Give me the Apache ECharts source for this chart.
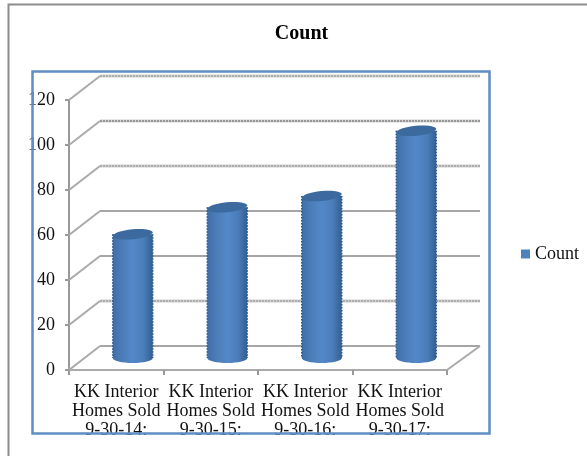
<!DOCTYPE html>
<html>
<head>
<meta charset="utf-8">
<style>html,body{margin:0;padding:0;background:#fff}#c{width:587px;height:456px}</style>
<script src="https://cdn.jsdelivr.net/npm/echarts@6/dist/echarts.min.js"></script>
</head>
<body>
<div id="c"></div>
<script>
// Yearly home sales shown as pseudo-3D cylinders on a tilted floor.
const categories = ['KK Interior\nHomes Sold\n9-30-14:', 'KK Interior\nHomes Sold\n9-30-15:', 'KK Interior\nHomes Sold\n9-30-16:', 'KK Interior\nHomes Sold\n9-30-17:'];
const seriesName = 'Count';
const counts = [55, 67, 72, 101];
const yTicks = [0, 20, 40, 60, 80, 100, 120];
const softTicks = [20, 80, 100, 120];

const FONT = '"Liberation Serif","Times New Roman",serif';
const DEPTH_X = 31, DEPTH_X_RIGHT = 33, DEPTH_Y = 24;
const BLUE = '#4f81bd';

const chart = echarts.init(document.getElementById('c'), null, { renderer: 'canvas' });

const floatGrid = (dx, dy) => ({ left: 69 + dx, top: 100 - dy, width: 378, height: 270 });
const valueAxis = (i, show) => ({
  type: 'value', gridIndex: i, min: 0, max: 120, interval: 20,
  axisLine: { show, lineStyle: { color: '#999', width: 2 } },
  axisTick: { show, length: 4, lineStyle: { color: '#999', width: 2 } },
  axisLabel: { show, color: '#111', fontFamily: FONT, fontSize: 18, margin: 14, padding: [4, 0, 0, 0] },
  splitLine: { show: false }
});
const catAxis = (i, show) => ({
  type: 'category', gridIndex: i, data: categories,
  axisLine: { show, onZero: false, lineStyle: { color: '#aaa', width: 2 } },
  axisTick: { show, length: 5, lineStyle: { color: '#999', width: 2 } },
  axisLabel: { show, color: '#111', fontFamily: FONT, fontSize: 18, lineHeight: 19, margin: 13, interval: 0 }
});

// Back-wall lines and the slanted floor/side connectors for each tick.
function renderWall(params, api) {
  const v = api.value(0);
  const left = api.coord([0, v]);
  const size = api.size([1, 0]);
  const x0 = left[0] - size[0] / 2;
  const x1 = x0 + size[0] * categories.length;
  const y = left[1];
  const wall = { x1: x0 + DEPTH_X, y1: y - DEPTH_Y, x2: x1 + DEPTH_X_RIGHT, y2: y - DEPTH_Y };
  const connector = { stroke: '#aaa', lineWidth: 2 };
  const children = [{ type: 'line', shape: { x1: x0, y1: y, x2: x0 + DEPTH_X, y2: y - DEPTH_Y }, style: connector }];
  if (softTicks.includes(v)) {
    // Fuzzy rows: a pale band with a fine darker weave on top.
    children.push(
      { type: 'line', shape: wall, style: { stroke: '#cfcfcf', lineWidth: 3 } },
      { type: 'line', shape: wall, style: { stroke: v === 100 ? '#989898' : '#adadad', lineWidth: 2, lineDash: [2, 1] } }
    );
  } else {
    children.push({ type: 'line', shape: wall, style: { stroke: '#a6a6a6', lineWidth: 2 } });
  }
  if (v === 0) {
    children.push({ type: 'line', shape: { x1: x1, y1: y, x2: x1 + DEPTH_X_RIGHT, y2: y - DEPTH_Y }, style: connector });
  }
  return { type: 'group', children };
}

// One cylinder: shaded body with speckled edges and a tilted darker cap.
function renderBar(params, api) {
  const top = api.coord([api.value(0), api.value(1)]);
  const base = api.coord([api.value(0), 0]);
  const cx = top[0], w = 40, rx = w / 2, ry = 5;
  const fill = new echarts.graphic.LinearGradient(0, 0, 1, 0, [
    { offset: 0, color: '#3f6fa8' },
    { offset: 0.2, color: '#4a7bb6' },
    { offset: 0.5, color: '#5388c9' },
    { offset: 0.78, color: '#4a7cb8' },
    { offset: 1, color: '#335f92' }
  ]);
  const edge = { stroke: '#2f5a8c', lineWidth: 1.5, lineDash: [1.5, 1.5] };
  return {
    type: 'group',
    children: [
      { type: 'ellipse', shape: { cx, cy: base[1], rx, ry }, style: { fill } },
      { type: 'rect', shape: { x: cx - rx, y: top[1], width: w, height: base[1] - top[1] }, style: { fill } },
      { type: 'line', shape: { x1: cx - rx, y1: top[1], x2: cx - rx, y2: base[1] }, style: edge },
      { type: 'line', shape: { x1: cx + rx, y1: top[1], x2: cx + rx, y2: base[1] }, style: edge },
      { type: 'ellipse', shape: { cx: 0, cy: 0, rx, ry }, x: cx, y: top[1], rotation: 0.1, style: { fill: '#3d6a9e' } }
    ]
  };
}

chart.setOption({
  animation: false,
  backgroundColor: '#fff',
  title: {
    text: seriesName, left: 296.5, top: 19, textAlign: 'center',
    textStyle: { fontFamily: FONT, fontSize: 20, fontWeight: 'bold', color: '#000' }
  },
  legend: {
    left: 516, top: 240, itemWidth: 9, itemHeight: 9, itemGap: 0,
    data: [{ name: seriesName, icon: 'rect' }],
    textStyle: { fontFamily: FONT, fontSize: 18, color: '#111' }
  },
  grid: [floatGrid(0, 0), floatGrid(16.5, 12)],
  xAxis: [catAxis(0, true), catAxis(1, false)],
  yAxis: [valueAxis(0, true), valueAxis(1, false)],
  series: [
    {
      type: 'custom', name: 'wall', xAxisIndex: 0, yAxisIndex: 0, z: 1,
      clip: false, silent: true, encode: { y: 0 },
      data: yTicks.map(v => [v]), renderItem: renderWall
    },
    {
      type: 'custom', name: seriesName, xAxisIndex: 1, yAxisIndex: 1, z: 3,
      clip: false, itemStyle: { color: BLUE }, encode: { x: 0, y: 1 },
      data: counts.map((v, i) => [i, v]), renderItem: renderBar
    }
  ],
  graphic: [
    // Outer chart-area edge, and the blue selection frame that trims the labels below it.
    { type: 'rect', z: 50, silent: true, shape: { x: 0, y: 435, width: 587, height: 21 }, style: { fill: '#fff' } },
    { type: 'polyline', z: 60, silent: true, shape: { points: [[8.5, 456], [8.5, 4.5], [587, 4.5]] }, style: { stroke: '#8c8c8c', lineWidth: 2, fill: null } },
    { type: 'rect', z: 60, silent: true, shape: { x: 32.5, y: 71.5, width: 457, height: 362 }, style: { stroke: '#5f8dc4', lineWidth: 2.5, fill: null } }
  ]
});
</script>
</body>
</html>
